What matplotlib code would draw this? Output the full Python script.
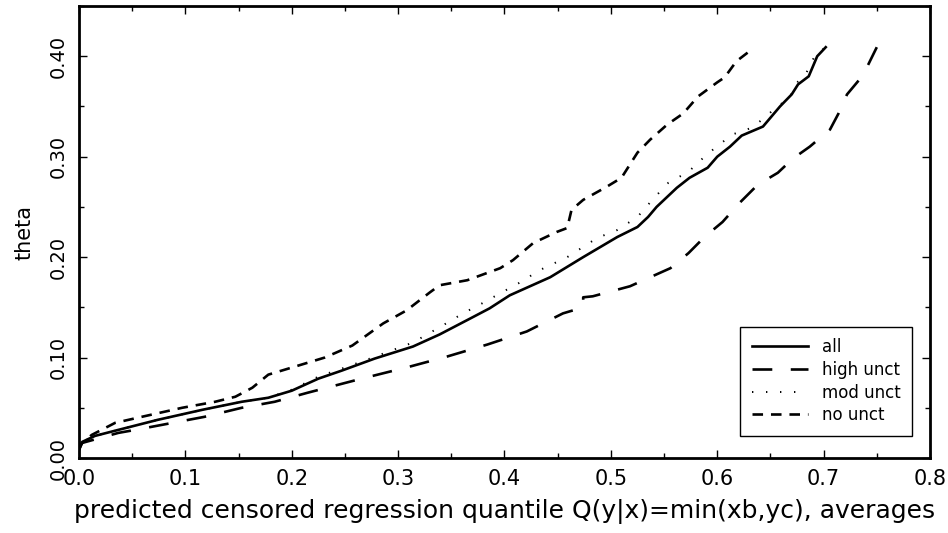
import matplotlib
matplotlib.use("Agg")
import matplotlib.pyplot as plt
from matplotlib.ticker import MultipleLocator, FormatStrFormatter

# values
all_x = [0.0, 0.003, 0.015, 0.037, 0.074, 0.116, 0.153, 0.178, 0.200, 0.225, 0.247, 0.278,
         0.314, 0.339, 0.368, 0.386, 0.405, 0.443, 0.474, 0.506, 0.525, 0.535, 0.543, 0.562,
         0.574, 0.591, 0.600, 0.612, 0.623, 0.643, 0.659, 0.670, 0.676, 0.686, 0.694, 0.702]
all_y = [0.008, 0.016, 0.022, 0.028, 0.038, 0.048, 0.056, 0.060, 0.067, 0.079, 0.087, 0.099,
         0.111, 0.123, 0.139, 0.149, 0.162, 0.180, 0.200, 0.220, 0.230, 0.240, 0.250, 0.269,
         0.279, 0.289, 0.300, 0.310, 0.321, 0.330, 0.350, 0.362, 0.372, 0.380, 0.400, 0.409]

high_x = [0.0, 0.003, 0.037, 0.053, 0.078, 0.118, 0.153, 0.184, 0.215, 0.262, 0.311, 0.346,
          0.384, 0.421, 0.455, 0.474, 0.474, 0.483, 0.518, 0.556, 0.573, 0.588, 0.605, 0.621,
          0.638, 0.657, 0.671, 0.687, 0.706, 0.714, 0.722, 0.737, 0.750]
high_y = [0.008, 0.015, 0.025, 0.028, 0.033, 0.041, 0.050, 0.056, 0.065, 0.078, 0.091, 0.101,
          0.113, 0.126, 0.144, 0.150, 0.160, 0.161, 0.171, 0.189, 0.204, 0.220, 0.235, 0.254,
          0.272, 0.284, 0.298, 0.310, 0.327, 0.343, 0.362, 0.381, 0.409]

mod_x = [0.0, 0.003, 0.015, 0.037, 0.074, 0.116, 0.153, 0.178, 0.200, 0.225, 0.247, 0.271,
         0.314, 0.342, 0.361, 0.379, 0.396, 0.415, 0.433, 0.459, 0.487, 0.506, 0.525, 0.539,
         0.554, 0.573, 0.587, 0.596, 0.614, 0.633, 0.648, 0.656, 0.667, 0.676, 0.684, 0.692, 0.702]
mod_y = [0.008, 0.016, 0.022, 0.028, 0.038, 0.048, 0.056, 0.060, 0.068, 0.081, 0.089, 0.098,
         0.115, 0.132, 0.144, 0.154, 0.164, 0.175, 0.187, 0.200, 0.219, 0.227, 0.240, 0.257,
         0.274, 0.285, 0.299, 0.307, 0.322, 0.329, 0.342, 0.350, 0.357, 0.375, 0.384, 0.401, 0.409]

no_x = [0.0, 0.001, 0.012, 0.034, 0.059, 0.097, 0.128, 0.147, 0.163, 0.178, 0.203, 0.231,
        0.257, 0.286, 0.308, 0.330, 0.339, 0.365, 0.396, 0.408, 0.427, 0.449, 0.459, 0.463,
        0.474, 0.496, 0.510, 0.525, 0.537, 0.553, 0.568, 0.582, 0.600, 0.607, 0.618, 0.634]
no_y = [0.008, 0.013, 0.023, 0.035, 0.041, 0.050, 0.056, 0.061, 0.070, 0.083, 0.091, 0.100,
        0.112, 0.134, 0.147, 0.165, 0.172, 0.177, 0.189, 0.197, 0.214, 0.225, 0.229, 0.247,
        0.257, 0.270, 0.279, 0.304, 0.317, 0.332, 0.343, 0.360, 0.374, 0.379, 0.395, 0.408]

plt.rcParams["font.family"] = ["DejaVu Sans"]

fig = plt.figure(figsize=(9.48, 5.33), dpi=100)
ax = fig.add_axes([0.0833, 0.1407, 0.8977, 0.848])

ax.plot(all_x, all_y, color="black", lw=1.9, label="all")
ax.plot(high_x, high_y, color="black", lw=1.9, linestyle=(0, (7.5, 7)), label="high unct")
ax.plot(mod_x, mod_y, color="black", lw=1.4, linestyle=(0, (0.7, 6.5)), label="mod unct")
ax.plot(no_x, no_y, color="black", lw=1.9, linestyle=(0, (4, 3)), label="no unct")

ax.set_xlim(0, 0.8)
ax.set_ylim(0, 0.45)
ax.xaxis.set_major_locator(MultipleLocator(0.1))
ax.xaxis.set_minor_locator(MultipleLocator(0.05))
ax.yaxis.set_major_locator(MultipleLocator(0.1))
ax.yaxis.set_minor_locator(MultipleLocator(0.05))
ax.xaxis.set_major_formatter(FormatStrFormatter("%.1f"))
ax.yaxis.set_major_formatter(FormatStrFormatter("%.2f"))

ax.tick_params(which="both", direction="in", top=True, right=True, width=1, color="black")
ax.tick_params(which="major", length=6)
ax.tick_params(which="minor", length=3.5)
ax.tick_params(axis="x", labelsize=15, pad=8)
ax.tick_params(axis="y", labelsize=14, pad=8, labelrotation=90)
for lab in ax.get_yticklabels():
    lab.set_verticalalignment("center")
ax.get_xticklabels()[0].set_horizontalalignment("left")

for s in ax.spines.values():
    s.set_linewidth(2.0)

ax.set_xlabel("predicted censored regression quantile Q(y|x)=min(xb,yc), averages",
              fontsize=18, labelpad=7)
ax.set_ylabel("theta", fontsize=15, labelpad=10)

leg = ax.legend(loc="lower right", bbox_to_anchor=(0.979, 0.049), fontsize=12,
                frameon=True, fancybox=False, edgecolor="black", framealpha=1,
                handlelength=3.4, handletextpad=0.8, borderpad=0.7,
                labelspacing=0.28, borderaxespad=0)
leg.get_frame().set_linewidth(1.0)

fig.savefig("out.png", dpi=100)
